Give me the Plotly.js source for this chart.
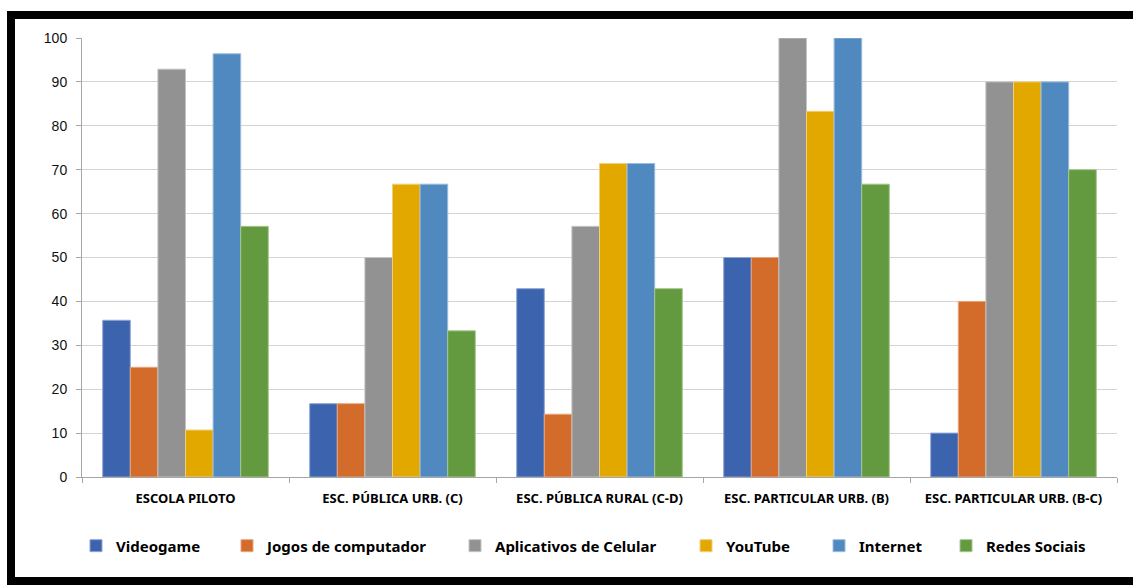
<!DOCTYPE html>
<html>
<head>
<meta charset="utf-8">
<script src="https://cdn.plot.ly/plotly-3.0.1.min.js"></script>
<style>
  html, body { margin:0; padding:0; background:#fff; overflow:hidden; }
  #chart { position:absolute; left:0; top:0; width:1133px; height:587px; }
  #frame { position:absolute; left:7px; top:11px; width:1140px; height:574px;
           border-left:8px solid #000; border-top:8px solid #000; border-bottom:8px solid #000;
           box-sizing:border-box; pointer-events:none; }
</style>
</head>
<body>
<div id="chart"></div>
<div id="frame"></div>
<script>
const categories = ["ESCOLA PILOTO", "ESC. PÚBLICA URB. (C)", "ESC. PÚBLICA RURAL (C-D)", "ESC. PARTICULAR URB. (B)", "ESC. PARTICULAR URB. (B-C)"];
const seriesNames = ["Videogame", "Jogos de computador", "Aplicativos de Celular", "YouTube", "Internet", "Redes Sociais"];
const videogame   = [35.7, 16.7, 42.9, 50, 10];
const jogos       = [25, 16.7, 14.3, 50, 40];
const aplicativos = [92.9, 50, 57.1, 100, 90];
const youtube     = [10.7, 66.7, 71.4, 83.3, 90];
const internet    = [96.4, 66.7, 71.4, 100, 90];
const redes       = [57.1, 33.3, 42.9, 66.7, 70];
const yTicks = [0, 10, 20, 30, 40, 50, 60, 70, 80, 90, 100];

const colors = ["#3C64AE", "#D36B2A", "#929292", "#E2A800", "#4F89BF", "#639A3F"];
const lines  = ["#8FA6D2", "#E9A57D", "#C4C4C4", "#F0CF7A", "#9BBCDD", "#A7C68F"];
const values = [videogame, jogos, aplicativos, youtube, internet, redes];
const legendIds = ["legend", "legend2", "legend3", "legend4", "legend5", "legend6"];
const legendX = [-0.0058, 0.1401, 0.3604, 0.5836, 0.7121, 0.8348];

const traces = values.map((v, i) => ({
  type: "bar",
  name: seriesNames[i],
  x: categories,
  y: v,
  legend: legendIds[i],
  marker: { color: colors[i], line: { color: lines[i], width: 1 } },
  hoverinfo: "x+y+name"
}));

const legendStyle = (x) => ({
  orientation: "h", x: x, xanchor: "left", y: -0.157, yanchor: "middle",
  font: { family: "Noto Sans, sans-serif", size: 15, color: "#000", weight: "bold" },
  itemwidth: 30, bgcolor: "rgba(0,0,0,0)"
});

const layout = {
  width: 1133, height: 587,
  margin: { l: 82, r: 16, t: 38, b: 110 },
  paper_bgcolor: "#fff", plot_bgcolor: "#fff",
  barmode: "group", bargap: 0.2, bargroupgap: 0,
  font: { family: "Liberation Sans, Arial, sans-serif", color: "#000" },
  xaxis: {
    type: "category",
    showline: true, linecolor: "#A6A6A6", linewidth: 1,
    ticks: "outside", tickson: "boundaries", ticklen: 5, tickcolor: "#A6A6A6",
    tickfont: { family: "Noto Sans, sans-serif", size: 13, color: "#000", weight: "bold" },
    ticklabelstandoff: 9,
    showgrid: false, zeroline: false
  },
  yaxis: {
    range: [0, 100], tickvals: yTicks, ticktext: yTicks.map(String),
    showline: true, linecolor: "#A6A6A6", linewidth: 1,
    ticks: "outside", ticklen: 5, tickcolor: "#A6A6A6",
    showgrid: true, gridcolor: "#D4D4D4", gridwidth: 1,
    zeroline: false,
    tickfont: { family: "Liberation Sans, Arial, sans-serif", size: 14, color: "#111" },
    ticklabelstandoff: 6
  },
  showlegend: true
};
legendIds.forEach((id, i) => { layout[id] = legendStyle(legendX[i]); });

Plotly.newPlot("chart", traces, layout, { displayModeBar: false, staticPlot: true });
</script>
</body>
</html>
